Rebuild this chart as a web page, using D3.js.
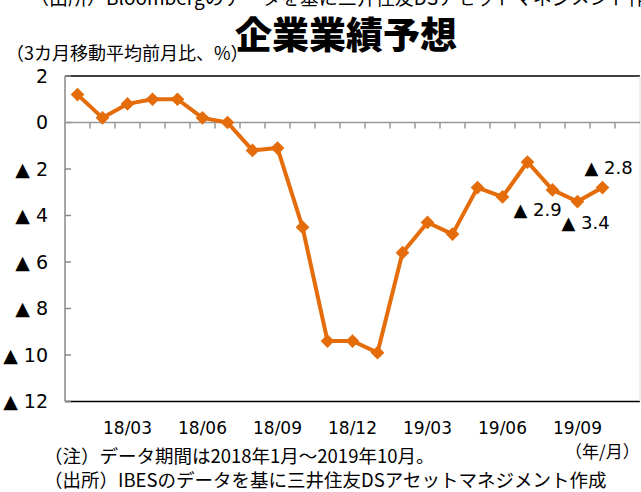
<!DOCTYPE html>
<html>
<head>
<meta charset="utf-8">
<script src="https://cdn.jsdelivr.net/npm/d3@7"></script>
<style>
  body { margin: 0; background: #fff; }
  svg { display: block; }
  text { font-family: "DejaVu Sans", "Noto Sans CJK JP", sans-serif; fill: #000; }
  .jp { font-family: "Noto Sans CJK JP", sans-serif; }
</style>
</head>
<body>
<div id="chart"></div>
<script>
// months Jan 2018 - Oct 2019, plus one empty slot at the right
const months = ["18/01","18/02","18/03","18/04","18/05","18/06","18/07","18/08","18/09","18/10","18/11","18/12",
                "19/01","19/02","19/03","19/04","19/05","19/06","19/07","19/08","19/09","19/10","19/11"]
const values = [1.2, 0.2, 0.8, 1.0, 1.0, 0.2, 0.0, -1.2, -1.1, -4.5, -9.4, -9.4,
                -9.9, -5.6, -4.3, -4.8, -2.8, -3.2, -1.7, -2.9, -3.4, -2.8]
const xLabels = ["18/03","18/06","18/09","18/12","19/03","19/06","19/09"]
const yTicks = [2, 0, -2, -4, -6, -8, -10, -12]
// labelled points: month, text
const notes = [["19/08", "▲ 2.9"], ["19/09", "▲ 3.4"], ["19/10", "▲ 2.8"]]

const W = 641, H = 492
const svg = d3.select('#chart').append('svg').attr('width', W).attr('height', H)

const x = d3.scaleBand().domain(months).range([65, 640])
const y = d3.scaleLinear().domain([-12, 2]).range([401.5, 76])
const cx = m => x(m) + x.bandwidth() / 2
const fmt = v => v < 0 ? "▲ " + (-v) : String(v)

// cut-off source line at the very top (cropped in the original too)
svg.append('text').attr('class', 'jp').attr('x', 30).attr('y', 5)
    .style('font-size', '19px').text("（出所）Bloombergのデータを基に三井住友DSアセットマネジメント作成")

// title
svg.append('text').attr('class', 'jp').attr('x', 346).attr('y', 49)
    .attr('text-anchor', 'middle').style('font-size', '37px').style('font-weight', 900)
    .text("企業業績予想")

svg.append('text').attr('class', 'jp').attr('x', 6).attr('y', 60)
    .style('font-size', '18px').text("（3カ月移動平均前月比、%）")

// frame
svg.append('line').attr('x1', 65).attr('x2', 640).attr('y1', y(2)).attr('y2', y(2))
    .attr('stroke', '#000').attr('stroke-width', 1.5)
svg.append('line').attr('x1', 65).attr('x2', 640).attr('y1', y(-12)).attr('y2', y(-12))
    .attr('stroke', '#000').attr('stroke-width', 1.5)
svg.append('line').attr('x1', 640).attr('x2', 640).attr('y1', y(2)).attr('y2', y(-12))
    .attr('stroke', '#ddd')

// y axis
const yAxis = svg.append('g')
yAxis.append('line').attr('x1', 65).attr('x2', 65).attr('y1', y(2)).attr('y2', y(-12))
    .attr('stroke', '#888').attr('stroke-width', 1.5)
yAxis.selectAll('.yt').data(yTicks).join('line')
    .attr('x1', 65).attr('x2', 71).attr('y1', d => y(d)).attr('y2', d => y(d))
    .attr('stroke', '#888').attr('stroke-width', 1.5)
yAxis.selectAll('text').data(yTicks).join('text')
    .attr('x', 48).attr('y', d => y(d)).attr('dy', '0.36em')
    .attr('text-anchor', 'end').style('font-size', '19px')
    .text(fmt)

// zero line with month ticks
svg.append('line').attr('x1', 65).attr('x2', 640).attr('y1', y(0)).attr('y2', y(0))
    .attr('stroke', '#999').attr('stroke-width', 1.5)
svg.selectAll('.mt').data(months.slice(1)).join('line')
    .attr('x1', d => x(d)).attr('x2', d => x(d))
    .attr('y1', y(0)).attr('y2', y(0) + 6)
    .attr('stroke', '#999').attr('stroke-width', 1.5)

// x labels
svg.selectAll('.xl').data(xLabels).join('text')
    .attr('x', cx).attr('y', 434).attr('text-anchor', 'middle')
    .style('font-size', '17px').text(d => d)

// line + markers
const pts = values.map((v, i) => [months[i], v])
const orange = '#E46C0A'
svg.append('path').datum(pts)
    .attr('fill', 'none').attr('stroke', orange).attr('stroke-width', 4)
    .attr('stroke-linejoin', 'round')
    .attr('d', d3.line().x(d => cx(d[0])).y(d => y(d[1])))
svg.selectAll('.mk').data(pts).join('path')
    .attr('d', d3.symbol(d3.symbolDiamond2, 120))
    .attr('transform', d => `translate(${cx(d[0])},${y(d[1])})`)
    .attr('fill', orange)

// point labels
const noteOffset = { "19/08": [-39, 20], "19/09": [-16, 21], "19/10": [-18, -20] }
svg.selectAll('.nl').data(notes).join('text')
    .attr('x', d => cx(d[0]) + noteOffset[d[0]][0])
    .attr('y', d => y(values[months.indexOf(d[0])]) + noteOffset[d[0]][1])
    .attr('dy', '0.36em').style('font-size', '18px')
    .text(d => d[1])

// footer
svg.append('text').attr('class', 'jp').attr('x', 565).attr('y', 458)
    .style('font-size', '17px').text("（年/月）")
svg.append('text').attr('class', 'jp').attr('x', 44).attr('y', 463)
    .style('font-size', '18.5px').text("（注）データ期間は2018年1月～2019年10月。")
svg.append('text').attr('class', 'jp').attr('x', 44).attr('y', 487)
    .style('font-size', '18.5px').text("（出所）IBESのデータを基に三井住友DSアセットマネジメント作成")
</script>
</body>
</html>
